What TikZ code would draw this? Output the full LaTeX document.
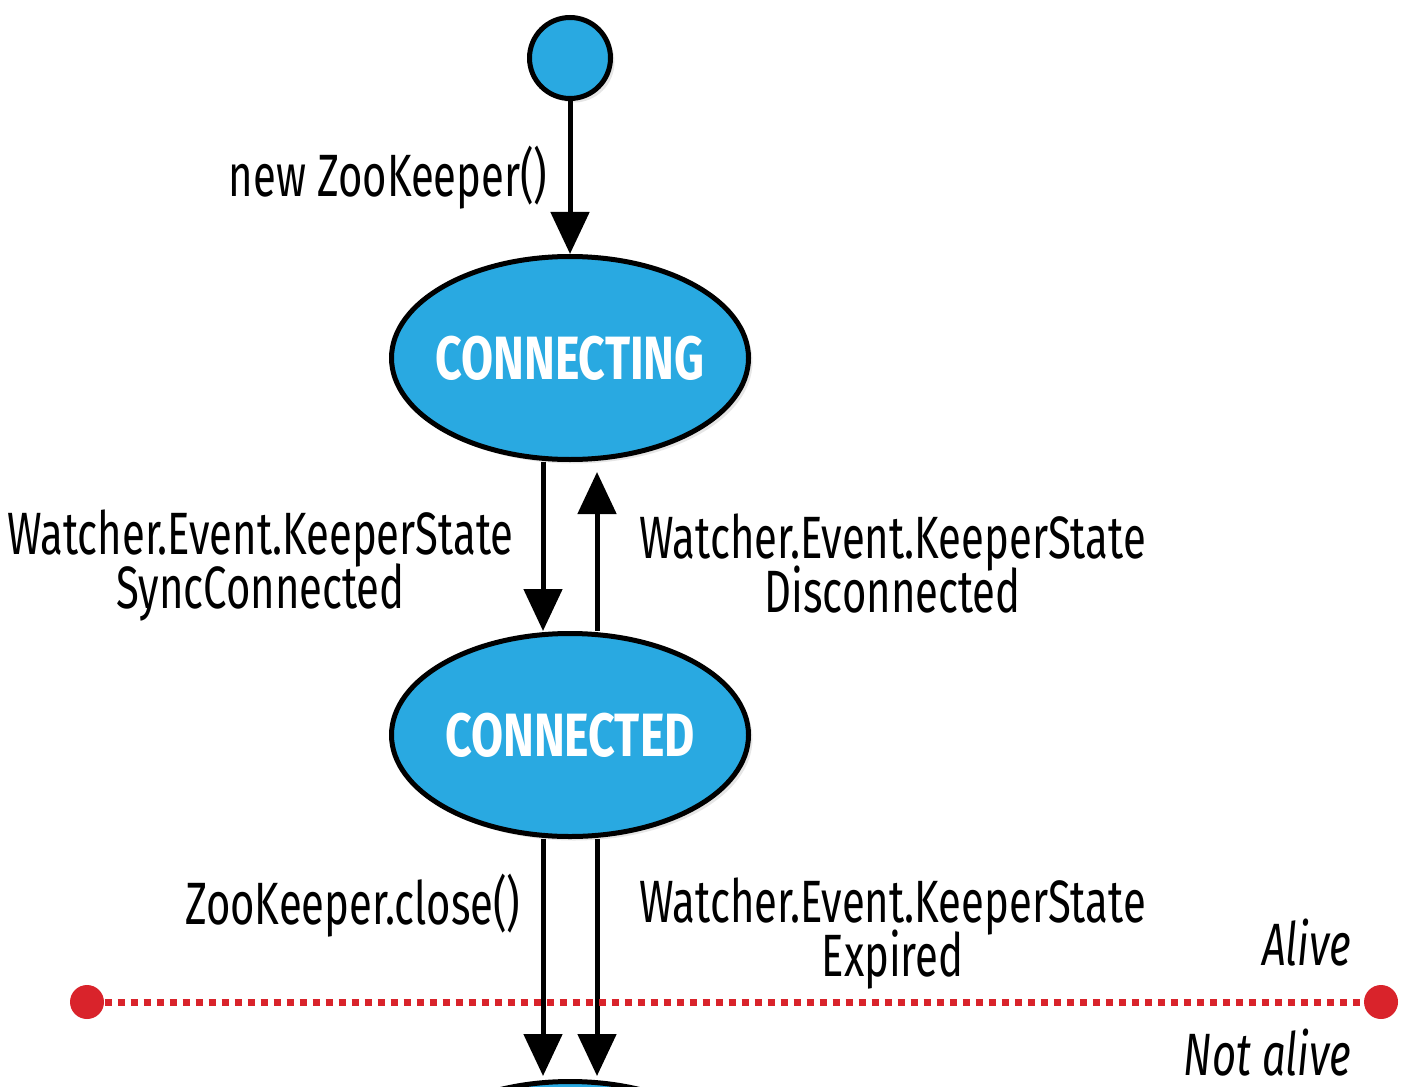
\documentclass[tikz,border=0pt]{standalone}
\usepackage{fontspec}
\setmainfont[FakeStretch=0.70,BoldFeatures={FakeStretch=0.76}]{Fira Sans}
\usetikzlibrary{positioning,shapes.geometric,arrows.meta,shadows}
\definecolor{stateblue}{HTML}{29A9E1}
\definecolor{alivered}{HTML}{D9232B}
\newcommand\tightlines{\setlength{\lineskiplimit}{-20pt}}

\begin{document}
\begin{tikzpicture}[
  state/.style={draw,ellipse,line width=0.05cm,fill=stateblue,minimum width=3.57cm,minimum height=2.03cm,
    inner xsep=-0.1cm,inner ysep=0pt,text=white,font=\fontsize{17.4}{20}\selectfont\bfseries,
    drop shadow={shadow xshift=0.04cm,shadow yshift=-0.04cm,opacity=0.2}},
  flow/.style={line width=0.05cm,-{Triangle[width=0.38cm,length=0.42cm]}},
  lbl/.style={inner sep=0pt,align=center,font=\fontsize{17}{15.4}\selectfont\tightlines},
  zone/.style={inner sep=0pt,anchor=base east,font=\fontsize{17}{15.4}\selectfont\itshape},
  dot/.style={circle,fill=alivered,inner sep=0pt,minimum size=0.34cm}]
\clip (0,0) rectangle (14.04,-10.86);
% states
\node[draw,circle,line width=0.05cm,fill=stateblue,minimum size=0.81cm,
  drop shadow={shadow xshift=0.04cm,shadow yshift=-0.04cm,opacity=0.2}] (start) at (5.70,-0.58) {};
\node[state,below=1.53cm of start] (connecting) {CONNECTING};
\node[state,below=1.69cm of connecting] (connected) {CONNECTED};
\node[state,below=2.40cm of connected] (closed) {};
% transitions
\draw[flow] (start) -- node[lbl,midway,left=0.2cm] {new ZooKeeper()} (connecting);
\draw[flow] ([xshift=-0.27cm]connecting.south) -- node[lbl,midway,left=0.27cm,yshift=-0.19cm] {Watcher.Event.KeeperState\\SyncConnected} ([xshift=-0.27cm]connected.north);
\draw[flow] ([xshift=0.27cm]connected.north) -- node[lbl,midway,right=0.4cm,yshift=-0.12cm] {Watcher.Event.KeeperState\\Disconnected} ([xshift=0.27cm,yshift=-0.1cm]connecting.south);
\draw[flow] ([xshift=-0.27cm]connected.south) -- node[lbl,pos=0.28,left=0.2cm] {ZooKeeper.close()} ([xshift=-0.27cm,yshift=0.03cm]closed.north);
\draw[flow] ([xshift=0.27cm]connected.south) -- node[lbl,pos=0.4,right=0.4cm] {Watcher.Event.KeeperState\\Expired} ([xshift=0.27cm,yshift=0.03cm]closed.north);
% alive / not alive border
\node[dot] (dotL) at (0.87,-10.02) {};
\node[dot] (dotR) at (13.81,-10.02) {};
\draw[alivered,line width=0.07cm,dash pattern=on 0.07cm off 0.06cm] (dotL) -- (dotR);
\node[zone] (alive) at (13.52,-9.65) {Alive};
\node[zone] (notalive) at (13.52,-10.75) {Not alive};
\end{tikzpicture}
\end{document}
